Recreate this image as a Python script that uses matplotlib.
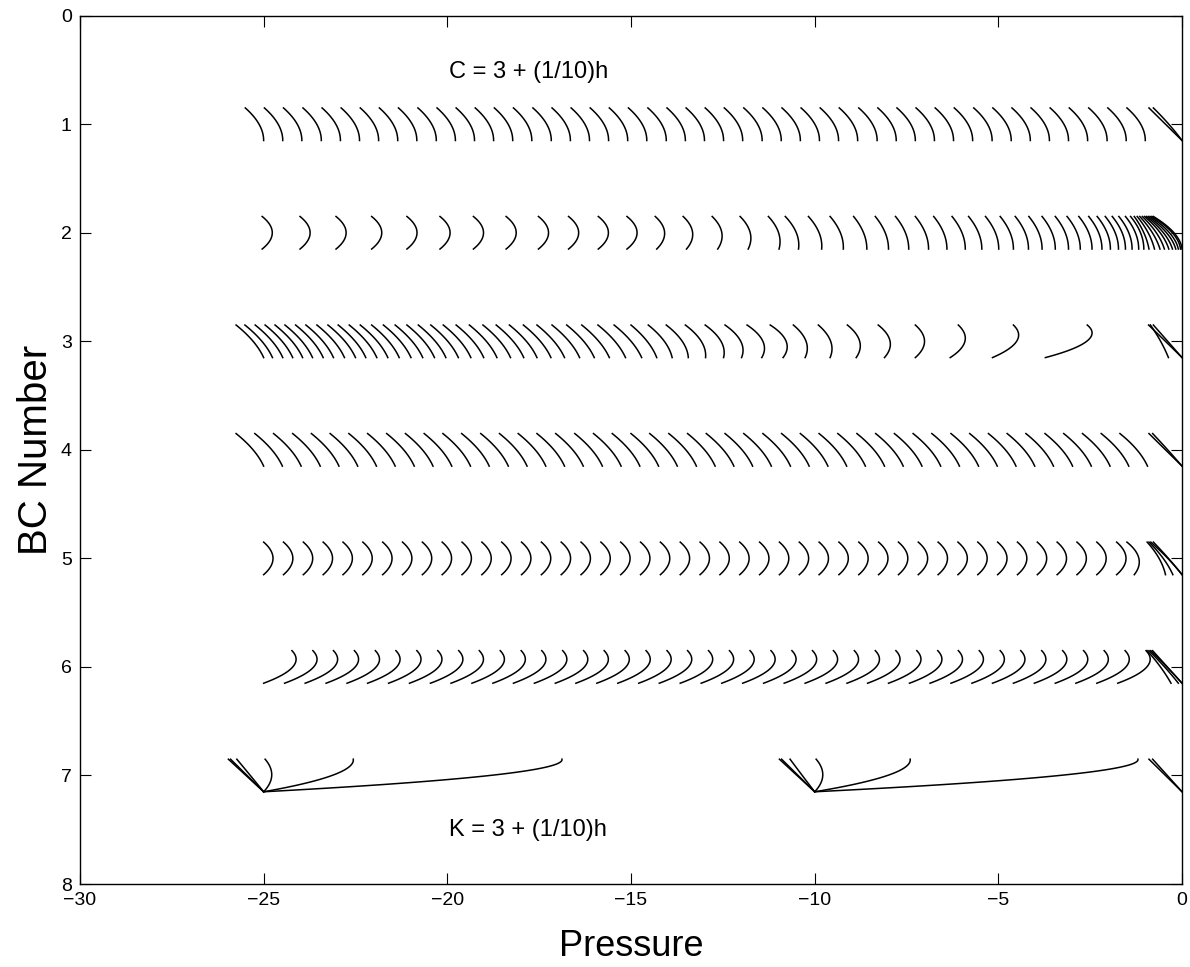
import numpy as np
import matplotlib
matplotlib.use("Agg")
import matplotlib.pyplot as plt

plt.rcParams['font.family'] = ['Liberation Sans', 'DejaVu Sans']

HALF = 0.15  # half height of each profile around its BC row

# ---------------- data ----------------
# Row 1: profiles, bottom x positions
r1_bottom = [-25.00, -24.48, -23.96, -23.43, -22.91, -22.39, -21.87, -21.35, -20.83, -20.30,
             -19.78, -19.26, -18.74, -18.22, -17.70, -17.17, -16.65, -16.13, -15.61, -15.09,
             -14.57, -14.04, -13.52, -13.00, -12.48, -11.96, -11.43, -10.91, -10.39, -9.87,
             -9.35, -8.83, -8.30, -7.78, -7.26, -6.74, -6.22, -5.70, -5.17, -4.65,
             -4.13, -3.61, -3.09, -2.57, -2.04, -1.52, -1.00]
r1_top_off, r1_ctrl_off = -0.50, 0.0
r1_fan_top = [-0.90, -0.78]
r1_fan_ctrl = [-0.45, -0.33]
r1_fan_bottom = [0.0, 0.0]

# Row 2
r2_top = [-25.04, -24.01, -23.03, -22.06, -21.10, -20.20, -19.29, -18.40, -17.52, -16.70,
          -15.89, -15.11, -14.34, -13.58, -12.79, -12.03, -11.26,
          -10.80, -10.17, -9.58, -8.94, -8.35, -7.80, -7.26, -6.76, -6.26, -5.81,
          -5.35, -4.95, -4.54, -4.17, -3.81, -3.45, -3.13, -2.81, -2.54, -2.31,
          -2.09, -1.90, -1.72, -1.54, -1.40,
          -1.30, -1.22, -1.15, -1.08, -1.02, -0.97, -0.92, -0.87, -0.82, -0.78]
r2_ctrl = [-24.49, -23.46, -22.48, -21.51, -20.55, -19.65, -18.74, -17.85, -16.97, -16.15,
           -15.34, -14.56, -13.85, -13.11, -12.34, -11.59, -10.85,
           -10.38, -9.77, -9.20, -8.58, -7.99, -7.44, -6.90, -6.40, -5.90, -5.45,
           -4.99, -4.59, -4.18, -3.81, -3.45, -3.09, -2.77, -2.45, -2.18, -1.95,
           -1.73, -1.54, -1.36, -1.18, -1.04,
           -0.98, -0.86, -0.74, -0.62, -0.50, -0.40, -0.30, -0.20, -0.10, -0.05]
r2_bottom = [-25.04, -24.01, -23.03, -22.06, -21.10, -20.20, -19.29, -18.40, -17.52, -16.70,
             -15.89, -15.11, -14.30, -13.49, -12.64, -11.81, -10.97,
             -10.44, -9.81, -9.22, -8.58, -7.99, -7.44, -6.90, -6.40, -5.90, -5.45,
             -4.99, -4.59, -4.18, -3.81, -3.45, -3.09, -2.77, -2.45, -2.18, -1.95,
             -1.73, -1.54, -1.36, -1.18, -1.04,
             -0.90, -0.75, -0.60, -0.48, -0.36, -0.26, -0.17, -0.10, -0.04, 0.00]

# Row 3
r3_top = [-25.75, -25.51, -25.23, -24.96, -24.69, -24.42, -24.13, -23.85, -23.55, -23.25,
          -22.97, -22.67, -22.37, -22.06, -21.74, -21.42, -21.10, -20.79, -20.45, -20.11,
          -19.76, -19.40, -19.03, -18.67, -18.31, -17.93, -17.56, -17.15, -16.75, -16.34,
          -15.90, -15.46, -15.00, -14.53, -14.04, -13.52, -12.98, -12.44, -11.84, -11.21,
          -10.58, -9.90, -9.11, -8.27, -7.26, -6.09, -4.59, -2.58,
          -0.91, -0.86, -0.78]
r3_ctrl = [-25.20, -24.96, -24.68, -24.41, -24.14, -23.87, -23.58, -23.30, -23.00, -22.70,
           -22.42, -22.12, -21.82, -21.51, -21.19, -20.87, -20.55, -20.24, -19.90, -19.56,
           -19.21, -18.85, -18.48, -18.12, -17.76, -17.38, -17.01, -16.60, -16.20, -15.79,
           -15.35, -14.91, -14.47, -13.98, -13.47, -12.93, -12.37, -11.81, -11.18, -10.52,
           -10.05, -9.39, -8.56, -7.71, -6.76, -5.62, -4.13, -2.04,
           -0.45, -0.55, -0.39]
r3_bottom = [-25.00, -24.76, -24.48, -24.21, -23.94, -23.67, -23.38, -23.10, -22.80, -22.50,
             -22.22, -21.92, -21.62, -21.31, -20.99, -20.67, -20.35, -20.04, -19.70, -19.36,
             -19.01, -18.65, -18.28, -17.92, -17.56, -17.18, -16.81, -16.40, -16.00, -15.59,
             -15.15, -14.71, -14.30, -13.88, -13.44, -12.97, -12.48, -11.99, -11.44, -10.86,
             -10.26, -9.58, -8.87, -8.10, -7.26, -6.31, -5.16, -3.72,
             0.00, -0.37, 0.00]

# Row 4
r4_bottom = [-25.00, -24.49, -23.98, -23.46, -22.95, -22.44, -21.93, -21.42, -20.90, -20.39,
             -19.88, -19.37, -18.86, -18.34, -17.83, -17.32, -16.81, -16.30, -15.78, -15.27,
             -14.76, -14.25, -13.74, -13.22, -12.71, -12.20, -11.69, -11.18, -10.66, -10.15,
             -9.64, -9.13, -8.62, -8.10, -7.59, -7.08, -6.57, -6.06, -5.54, -5.03,
             -4.52, -4.01, -3.50, -2.98, -2.47, -1.96, -1.45, -0.94]
r4_top_off, r4_ctrl_off = -0.75, -0.20
r4_fan_top = [-0.90, -0.80]
r4_fan_ctrl = [-0.45, -0.38]
r4_fan_bottom = [0.0, 0.0]

# Row 5
r5_bottom = [-25.00, -24.46, -23.92, -23.38, -22.84, -22.30, -21.76, -21.22, -20.68, -20.14,
             -19.60, -19.06, -18.52, -17.98, -17.44, -16.90, -16.36, -15.82, -15.28, -14.74,
             -14.20, -13.66, -13.12, -12.58, -12.04, -11.50, -10.96, -10.42, -9.88, -9.34,
             -8.80, -8.26, -7.72, -7.18, -6.64, -6.10, -5.56, -5.02, -4.48, -3.94,
             -3.40, -2.86, -2.32, -1.78]
r5_top_off, r5_ctrl_off = 0.0, 0.51
r5_fan_top = [-1.50, -0.95, -0.90, -0.85, -0.78]
r5_fan_ctrl = [-0.95, -0.55, -0.45, -0.35, -0.35]
r5_fan_bottom = [-1.30, -0.45, -0.25, 0.0, 0.0]

# Row 6
r6_bottom = [-25.00, -24.43, -23.87, -23.30, -22.73, -22.17, -21.60, -21.03, -20.46, -19.90,
             -19.33, -18.76, -18.20, -17.63, -17.06, -16.50, -15.93, -15.36, -14.79, -14.23,
             -13.66, -13.09, -12.53, -11.96, -11.39, -10.83, -10.26, -9.69, -9.12, -8.56,
             -7.99, -7.42, -6.86, -6.29, -5.72, -5.16, -4.59, -4.02, -3.45, -2.89,
             -2.32, -1.75]
r6_top_off, r6_ctrl_off = 0.77, 1.20
r6_fan_top = [-0.95, -0.90, -0.85, -0.80]
r6_fan_ctrl = [-0.55, -0.45, -0.40, -0.40]
r6_fan_bottom = [-0.30, -0.10, 0.0, 0.0]

# Row 7
r7_top = [-25.96, -25.90, -25.73, -24.96, -22.56, -16.88,
          -10.96, -10.90, -10.67, -9.96, -7.40, -1.20,
          -0.90, -0.80]
r7_ctrl = [-25.48, -25.45, -25.36, -24.58, -22.50, -16.75,
           -10.48, -10.45, -10.34, -9.58, -7.34, -1.08,
           -0.45, -0.40]
r7_bottom = [-25.00, -25.00, -25.00, -25.00, -25.00, -25.00,
             -10.00, -10.00, -10.00, -10.00, -10.00, -10.00,
             0.00, 0.00]

x_ticks = [-30, -25, -20, -15, -10, -5, 0]
y_ticks = [0, 1, 2, 3, 4, 5, 6, 7, 8]
label_top = "C = 3 + (1/10)h"
label_bottom = "K = 3 + (1/10)h"

# ---------------- drawing ----------------
fig = plt.figure(figsize=(11.90, 9.67), dpi=100)
ax = fig.add_axes([0.0672, 0.0858, 0.9261, 0.8980])

t = np.linspace(0, 1, 40)


def profile(row, top, ctrl, bottom):
    x = (1 - t) ** 2 * top + 2 * t * (1 - t) * ctrl + t ** 2 * bottom
    y = row - HALF + 2 * HALF * t
    ax.plot(x, y, color='black', lw=1.1)


def draw_row(row, tops, ctrls, bottoms):
    for a, c, b in zip(tops, ctrls, bottoms):
        profile(row, a, c, b)


draw_row(1, [b + r1_top_off for b in r1_bottom], [b + r1_ctrl_off for b in r1_bottom], r1_bottom)
draw_row(1, r1_fan_top, r1_fan_ctrl, r1_fan_bottom)
draw_row(2, r2_top, r2_ctrl, r2_bottom)
draw_row(3, r3_top, r3_ctrl, r3_bottom)
draw_row(4, [b + r4_top_off for b in r4_bottom], [b + r4_ctrl_off for b in r4_bottom], r4_bottom)
draw_row(4, r4_fan_top, r4_fan_ctrl, r4_fan_bottom)
draw_row(5, [b + r5_top_off for b in r5_bottom], [b + r5_ctrl_off for b in r5_bottom], r5_bottom)
draw_row(5, r5_fan_top, r5_fan_ctrl, r5_fan_bottom)
draw_row(6, [b + r6_top_off for b in r6_bottom], [b + r6_ctrl_off for b in r6_bottom], r6_bottom)
draw_row(6, r6_fan_top, r6_fan_ctrl, r6_fan_bottom)
draw_row(7, r7_top, r7_ctrl, r7_bottom)

ax.text(-17.8, 0.52, label_top, ha='center', va='center', fontsize=17)
ax.text(-17.8, 7.5, label_bottom, ha='center', va='center', fontsize=17)

ax.set_xlim(-30, 0)
ax.set_ylim(8, 0)
ax.set_xticks(x_ticks)
ax.set_yticks(y_ticks)
ax.tick_params(direction='in', top=True, right=True, length=8, width=0.8,
               labelsize=14, pad=6)
for s in ax.spines.values():
    s.set_linewidth(1.0)
ax.set_xlabel('Pressure', fontsize=26, labelpad=14)
ax.set_ylabel('BC Number', fontsize=29, labelpad=4)

fig.savefig('out.png', dpi=100)
